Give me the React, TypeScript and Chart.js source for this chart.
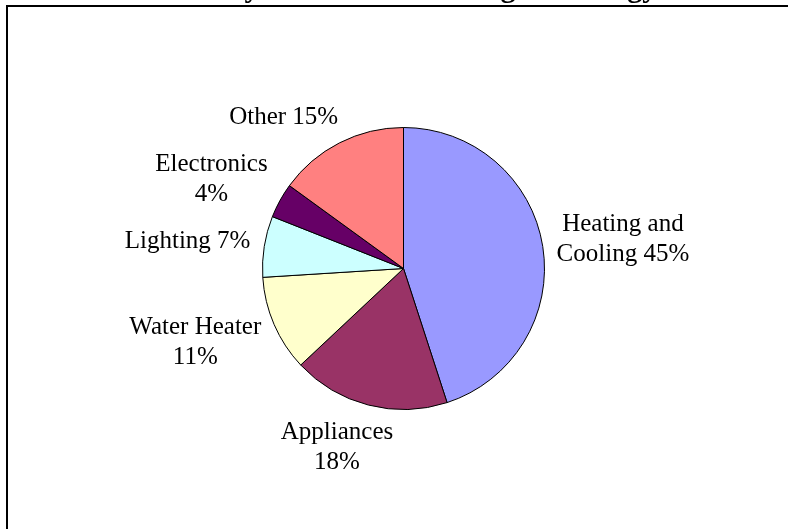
import React, { useEffect, useRef } from "react";
import { Chart, registerables } from "chart.js";

Chart.register(...registerables);

const titleText = "How My Household Is Using Its Energy";
const categories = ["Heating and Cooling", "Appliances", "Water Heater", "Lighting", "Electronics", "Other"];
const values = [45, 18, 11, 7, 4, 15];
const colors = ["#9999FF", "#993366", "#FFFFCC", "#CCFFFF", "#660066", "#FF8080"];
// number of words on the first label line (0 = single line)
const firstLineWords = [2, 1, 2, 0, 1, 0];

const FONT = "25px 'Liberation Serif', 'Times New Roman', serif";
const LINE_H = 30;

function labelLines(i: number): string[] {
  const txt = `${categories[i]} ${values[i]}%`;
  const n = firstLineWords[i];
  if (!n) return [txt];
  const words = txt.split(" ");
  return [words.slice(0, n).join(" "), words.slice(n).join(" ")];
}

const decorPlugin = {
  id: "decor",
  afterDraw(chart: any) {
    const ctx = chart.ctx;
    ctx.save();
    // plot-area frame (clipped by page)
    ctx.strokeStyle = "#000";
    ctx.lineWidth = 2;
    ctx.beginPath();
    ctx.moveTo(7, 600);
    ctx.lineTo(7, 6);
    ctx.lineTo(900, 6);
    ctx.stroke();
    // title (mostly above the visible page)
    ctx.fillStyle = "#000";
    ctx.font = "bold 30px 'Liberation Serif', 'Times New Roman', serif";
    ctx.textAlign = "center";
    ctx.textBaseline = "alphabetic";
    ctx.fillText(titleText, 403, -3);

    // data labels
    const meta = chart.getDatasetMeta(0);
    ctx.font = FONT;
    ctx.textBaseline = "middle";
    meta.data.forEach((arc: any, i: number) => {
      const { x, y, startAngle, endAngle, outerRadius } = arc.getProps(
        ["x", "y", "startAngle", "endAngle", "outerRadius"],
        true
      );
      const mid = (startAngle + endAngle) / 2;
      const dx = Math.cos(mid);
      const dy = Math.sin(mid);
      const gap = 14;
      const px = x + (outerRadius + gap) * dx;
      const py = y + (outerRadius + gap) * dy;
      const lines = labelLines(i);
      const w = Math.max(...lines.map((l) => ctx.measureText(l).width));
      const h = lines.length * LINE_H;
      const cx = px + Math.max(-w / 2, Math.min(w / 2, dx * w));
      const cy = py + (dy * h) / 2;
      lines.forEach((l, k) => {
        ctx.fillText(l, cx, cy - h / 2 + LINE_H / 2 + k * LINE_H);
      });
    });
    ctx.restore();
  },
};

export default function App() {
  const ref = useRef<HTMLCanvasElement>(null);
  useEffect(() => {
    if (!ref.current) return;
    const chart = new Chart(ref.current, {
      type: "pie",
      data: {
        labels: categories,
        datasets: [
          {
            data: values,
            backgroundColor: colors,
            borderColor: "#000",
            borderWidth: 1,
            hoverBorderWidth: 1,
            hoverOffset: 0,
          },
        ],
      },
      options: {
        responsive: false,
        animation: false,
        devicePixelRatio: 1,
        layout: { padding: { left: 262, right: 243, top: 127, bottom: 119 } },
        plugins: {
          legend: { display: false },
          tooltip: { enabled: false },
          title: { display: false },
        },
        events: [],
      },
      plugins: [decorPlugin],
    });
    return () => chart.destroy();
  }, []);
  return (
    <div style={{ position: "absolute", left: 0, top: 0, width: 788, height: 529, background: "#fff" }}>
      <canvas ref={ref} width={788} height={529} style={{ display: "block" }} />
    </div>
  );
}
